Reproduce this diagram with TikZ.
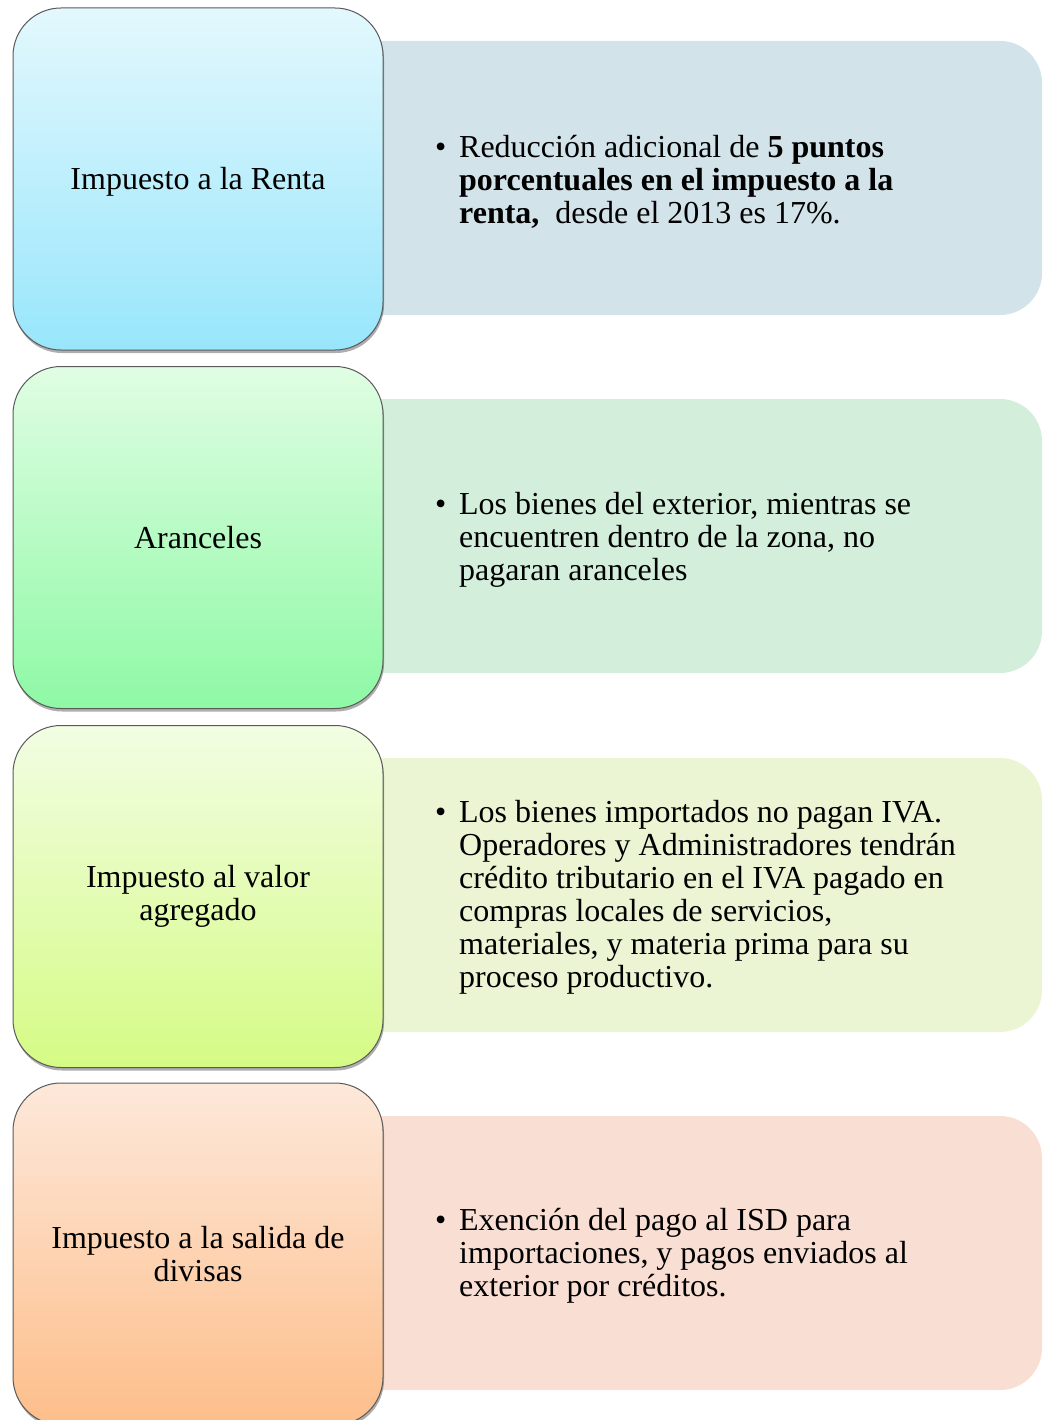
\documentclass[tikz,border=0pt]{standalone}
\usepackage{fontspec}
\setmainfont{Liberation Serif}
\usetikzlibrary{shadows}

\definecolor{rowAback}{HTML}{D3E3EA}
\definecolor{rowBback}{HTML}{D3EFDC}
\definecolor{rowCback}{HTML}{EBF5D3}
\definecolor{rowDback}{HTML}{F9DFD3}
\definecolor{rowAtop}{HTML}{E3F8FD}
\definecolor{rowAbot}{HTML}{98E6FC}
\definecolor{rowBtop}{HTML}{E0FDE3}
\definecolor{rowBbot}{HTML}{8EF9A5}
\definecolor{rowCtop}{HTML}{F2FDE3}
\definecolor{rowCbot}{HTML}{D5FB85}
\definecolor{rowDtop}{HTML}{FDE8DA}
\definecolor{rowDbot}{HTML}{FDBE8A}
\definecolor{edgegray}{HTML}{5A5A5A}

\newcommand{\bigtext}{\fontsize{32}{33}\selectfont}
\newcommand{\bul}{\llap{\textbullet\hspace{13pt}}}

\tikzset{
  leftbox/.style={draw=edgegray, line width=1pt, rounded corners=48pt,
    minimum width=370pt, minimum height=342pt, inner sep=0pt,
    align=center, font=\bigtext,
    drop shadow={shadow xshift=1pt, shadow yshift=-3pt, opacity=0.45, fill=black!70}},
  infotext/.style={anchor=west, align=left, inner sep=0pt, font=\bigtext}
}

\begin{document}
\begin{tikzpicture}[x=1pt, y=-1pt]
\useasboundingbox (0,0) rectangle (1046,1420);
\clip (0,0) rectangle (1046,1420);

% right-hand description panels (rounded on the right only)
\fill[rowAback] (360,41) [rounded corners=42pt] -- (1042,41) -- (1042,315) [sharp corners] -- (360,315) -- cycle;
\fill[rowBback] (360,399) [rounded corners=42pt] -- (1042,399) -- (1042,673) [sharp corners] -- (360,673) -- cycle;
\fill[rowCback] (360,758) [rounded corners=42pt] -- (1042,758) -- (1042,1032) [sharp corners] -- (360,1032) -- cycle;
\fill[rowDback] (360,1116) [rounded corners=42pt] -- (1042,1116) -- (1042,1390) [sharp corners] -- (360,1390) -- cycle;

% left-hand category boxes
\node[leftbox, top color=rowAtop, bottom color=rowAbot] (catA) at (198,179) {\raisebox{-3pt}[\height][\depth]{Impuesto a la Renta}};
\node[leftbox, top color=rowBtop, bottom color=rowBbot] (catB) at (198,537.5) {Aranceles};
\node[leftbox, top color=rowCtop, bottom color=rowCbot] (catC) at (198,896.5) {Impuesto al valor\\agregado};
\node[leftbox, top color=rowDtop, bottom color=rowDbot] (catD) at (198,1254) {Impuesto a la salida de\\divisas};

% bullet texts
\node[infotext] (infoA) at (459,181.5)
  {\bul Reducción adicional de \textbf{5 puntos}\\
   \textbf{porcentuales en el impuesto a la}\\
   \textbf{renta,}\ \ desde el 2013 es 17\%.};
\node[infotext] (infoB) at (459,539.5)
  {\bul Los bienes del exterior, mientras se\\
   encuentren dentro de la zona, no\\
   pagaran aranceles};
\node[infotext] (infoC) at (459,897.5)
  {\bul Los bienes importados no pagan IVA.\\
   Operadores y Administradores tendrán\\
   crédito tributario en el IVA pagado en\\
   compras locales de servicios,\\
   materiales, y materia prima para su\\
   proceso productivo.};
\node[infotext] (infoD) at (459,1255.5)
  {\bul Exención del pago al ISD para\\
   importaciones, y pagos enviados al\\
   exterior por créditos.};
\end{tikzpicture}
\end{document}
